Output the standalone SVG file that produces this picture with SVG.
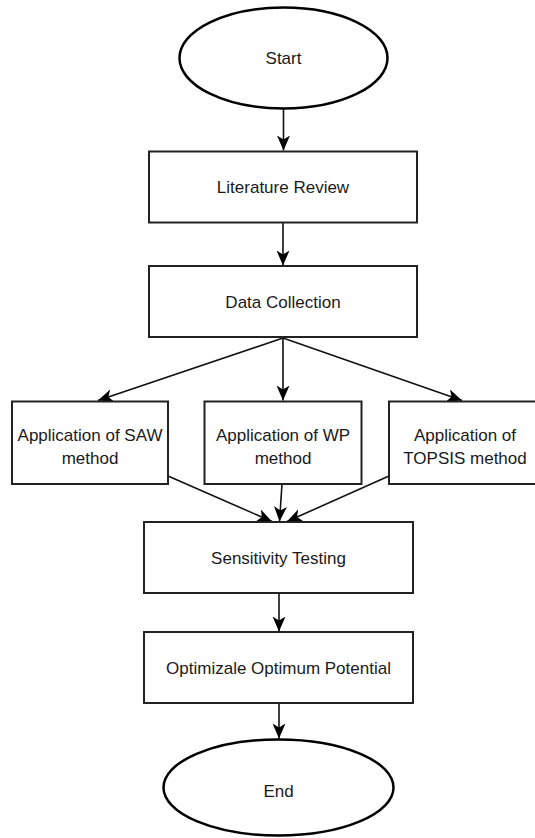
<svg xmlns="http://www.w3.org/2000/svg" width="535" height="838" viewBox="0 0 535 838">
  <style>
    .bg { fill: #ffffff; }
    .box { fill: #ffffff; stroke: #222222; stroke-width: 2; }
    .term { fill: #ffffff; stroke: #000000; stroke-width: 2.5; }
    .lbl { font-family: "Liberation Sans", Arial, Helvetica, sans-serif; font-size: 17px; fill: #1a1a1a; text-anchor: middle; }
    .edge { fill: none; stroke: #111111; stroke-width: 1.6; }
  </style>
  <defs>
    <marker id="arrow" markerUnits="userSpaceOnUse" markerWidth="16" markerHeight="14" refX="15" refY="6.5" orient="auto">
      <path d="M0,0 L15,6.5 L0,13 L4,6.5 Z" fill="#000000"/>
    </marker>
  </defs>

  <rect class="bg" x="0" y="0" width="535" height="838"/>

  <g id="connectors">
    <line class="edge" x1="283.5" y1="108.5" x2="283.5" y2="150.5" marker-end="url(#arrow)"/>
    <line class="edge" x1="283" y1="222.5" x2="283" y2="265.5" marker-end="url(#arrow)"/>
    <line class="edge" x1="283" y1="338" x2="98" y2="400.5" marker-end="url(#arrow)"/>
    <line class="edge" x1="283" y1="338" x2="283" y2="400.5" marker-end="url(#arrow)"/>
    <line class="edge" x1="283" y1="338" x2="462" y2="400.5" marker-end="url(#arrow)"/>
    <line class="edge" x1="168" y1="476" x2="272" y2="521.5" marker-end="url(#arrow)"/>
    <line class="edge" x1="282" y1="484" x2="279.5" y2="521.5" marker-end="url(#arrow)"/>
    <line class="edge" x1="389" y1="476" x2="287" y2="521.5" marker-end="url(#arrow)"/>
    <line class="edge" x1="279" y1="593.5" x2="279" y2="631.5" marker-end="url(#arrow)"/>
    <line class="edge" x1="279" y1="703.5" x2="279" y2="738.5" marker-end="url(#arrow)"/>
  </g>

  <g id="start">
    <ellipse class="term" cx="283.5" cy="58" rx="104" ry="50.5"/>
    <text class="lbl" x="283.5" y="63.5">Start</text>
  </g>

  <g id="literature-review">
    <rect class="box" x="149" y="151.5" width="268" height="71"/>
    <text class="lbl" x="283" y="193">Literature Review</text>
  </g>

  <g id="data-collection">
    <rect class="box" x="149" y="266" width="268" height="71"/>
    <text class="lbl" x="283" y="307.5">Data Collection</text>
  </g>

  <g id="saw">
    <rect class="box" x="12" y="401.5" width="156" height="82.5"/>
    <text class="lbl" x="90" y="441">Application of SAW</text>
    <text class="lbl" x="90" y="464">method</text>
  </g>

  <g id="wp">
    <rect class="box" x="204.5" y="401.5" width="157" height="82.5"/>
    <text class="lbl" x="283" y="441">Application of WP</text>
    <text class="lbl" x="283" y="464">method</text>
  </g>

  <g id="topsis">
    <rect class="box" x="389" y="401.5" width="156" height="82.5"/>
    <text class="lbl" x="465" y="441">Application of</text>
    <text class="lbl" x="465" y="464">TOPSIS method</text>
  </g>

  <g id="sensitivity-testing">
    <rect class="box" x="144" y="522" width="269" height="71"/>
    <text class="lbl" x="278.5" y="564">Sensitivity Testing</text>
  </g>

  <g id="optimizale">
    <rect class="box" x="144" y="632" width="269" height="71"/>
    <text class="lbl" x="278.5" y="674">Optimizale Optimum Potential</text>
  </g>

  <g id="end">
    <ellipse class="term" cx="278.5" cy="787.5" rx="115" ry="48"/>
    <text class="lbl" x="278.5" y="797">End</text>
  </g>
</svg>
